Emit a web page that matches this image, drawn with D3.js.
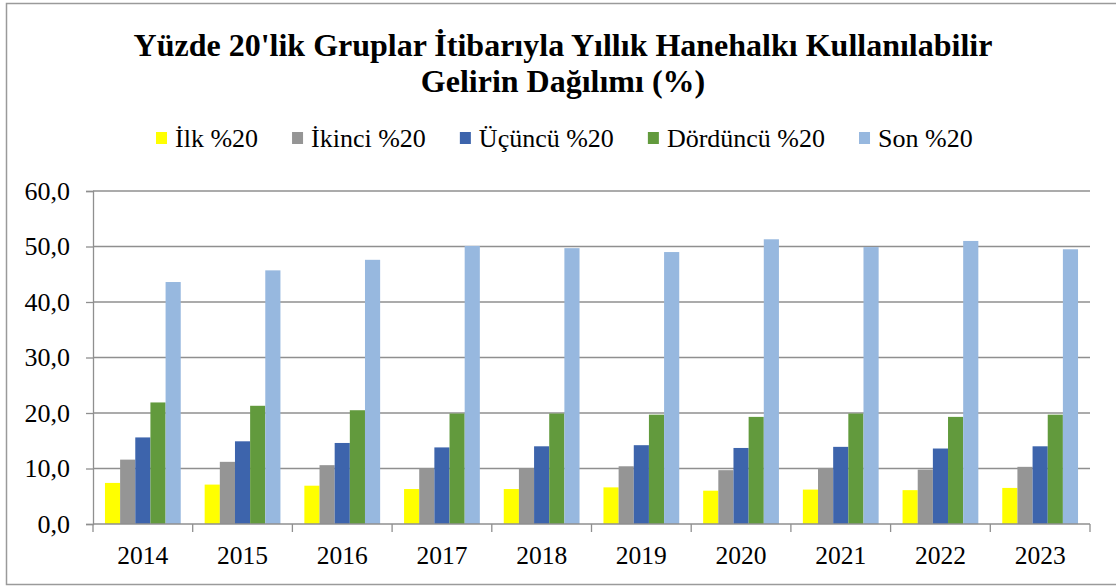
<!DOCTYPE html>
<html>
<head>
<meta charset="utf-8">
<script src="https://cdn.jsdelivr.net/npm/d3@7"></script>
<style>
  body { margin: 0; background: #fff; }
  text { font-family: "Times New Roman", "Liberation Serif", serif; fill: #000; }
</style>
</head>
<body>
<div id="chart"></div>
<script>
// data
const years = ["2014", "2015", "2016", "2017", "2018", "2019", "2020", "2021", "2022", "2023"];
const seriesNames = ["İlk %20", "İkinci %20", "Üçüncü %20", "Dördüncü %20", "Son %20"];
const ilk      = [7.4, 7.1, 6.9, 6.3, 6.3, 6.6, 6.0, 6.2, 6.1, 6.5];
const ikinci   = [11.6, 11.2, 10.6, 10.0, 10.0, 10.4, 9.7, 10.1, 9.8, 10.3];
const ucuncu   = [15.6, 14.9, 14.6, 13.8, 14.0, 14.2, 13.7, 13.9, 13.6, 14.0];
const dorduncu = [21.9, 21.3, 20.5, 19.9, 19.9, 19.7, 19.3, 19.9, 19.3, 19.7];
const son      = [43.6, 45.7, 47.6, 50.1, 49.7, 49.0, 51.3, 49.9, 51.0, 49.5];
const yTicks = [0, 10, 20, 30, 40, 50, 60];
const colors = ["#FFFF00", "#959595", "#3D64AC", "#629A3D", "#97B8DF"];

const W = 1116, H = 587;
const pLeft = 93, pRight = 1090, pTop = 191, pBottom = 524;

const allSeries = [ilk, ikinci, ucuncu, dorduncu, son];
const rows = years.map((yr, i) => ({ year: yr, vals: allSeries.map(s => s[i]) }));

const svg = d3.select("#chart").append("svg")
  .attr("width", W).attr("height", H);

// outer frame (right side runs off the picture)
svg.append("rect")
  .attr("x", 6.5).attr("y", 3.5).attr("width", 1112).attr("height", 581)
  .attr("fill", "#fff").attr("stroke", "#9a9a9a").attr("stroke-width", 1.5);

// title
const title = svg.append("text")
  .attr("text-anchor", "middle")
  .attr("font-size", 32).attr("font-weight", "bold");
title.append("tspan").attr("x", 563).attr("y", 56)
  .text("Yüzde 20'lik Gruplar İtibarıyla Yıllık Hanehalkı Kullanılabilir");
title.append("tspan").attr("x", 563).attr("y", 92)
  .text("Gelirin Dağılımı (%)");

// scales
const x0 = d3.scaleBand().domain(years).range([pLeft, pRight])
  .paddingInner(0.24).paddingOuter(0.12);
const x1 = d3.scaleBand().domain(d3.range(5)).range([0, x0.bandwidth()]);
const y = d3.scaleLinear().domain([0, 60]).range([pBottom, pTop]);

// gridlines
svg.append("g")
  .selectAll("line").data(yTicks.slice(1)).enter().append("line")
  .attr("x1", pLeft).attr("x2", pRight)
  .attr("y1", d => y(d)).attr("y2", d => y(d))
  .attr("stroke", "#8f8f8f").attr("stroke-width", 1.3);

// bars
svg.append("g").selectAll("g").data(rows).enter().append("g")
  .attr("transform", d => "translate(" + x0(d.year) + ",0)")
  .selectAll("rect").data(d => d.vals).enter().append("rect")
  .attr("x", (d, i) => x1(i))
  .attr("y", d => y(d))
  .attr("width", x1.bandwidth())
  .attr("height", d => y(0) - y(d))
  .attr("fill", (d, i) => colors[i]);

// y axis
const yAxis = d3.axisLeft(y).tickValues(yTicks).tickSize(7).tickPadding(16)
  .tickFormat(d => d3.format(".1f")(d).replace(".", ","));
const ya = svg.append("g").attr("transform", "translate(" + pLeft + ",0)").call(yAxis);
ya.selectAll("line, path").attr("stroke", "#8f8f8f").attr("stroke-width", 1.3);
ya.selectAll("text").attr("font-size", 26)
  .style("font-family", "'Times New Roman', 'Liberation Serif', serif");

// x axis: ticks at category boundaries
const xa = svg.append("g").attr("transform", "translate(0," + pBottom + ")");
xa.append("line").attr("x1", pLeft).attr("x2", pRight)
  .attr("stroke", "#8f8f8f").attr("stroke-width", 1.3);
const step = x0.step();
const bounds = years.map(yr => x0(yr) - x0.paddingOuter() * step).concat([pRight]);
xa.selectAll(".tk").data(bounds).enter().append("line")
  .attr("x1", d => d).attr("x2", d => d).attr("y1", 0).attr("y2", 8)
  .attr("stroke", "#8f8f8f").attr("stroke-width", 1.3);
xa.selectAll(".lbl").data(years).enter().append("text")
  .attr("x", d => x0(d) + x0.bandwidth() / 2).attr("y", 40)
  .attr("text-anchor", "middle").attr("font-size", 25.5)
  .text(d => d);

// legend
const legend = svg.append("g");
let lx = 156;
seriesNames.forEach((name, i) => {
  legend.append("rect").attr("x", lx).attr("y", 132).attr("width", 11).attr("height", 12)
    .attr("fill", colors[i]);
  const t = legend.append("text").attr("x", lx + 19).attr("y", 147)
    .attr("font-size", 26).text(name);
  lx += 19 + t.node().getComputedTextLength() + 34;
});
</script>
</body>
</html>
